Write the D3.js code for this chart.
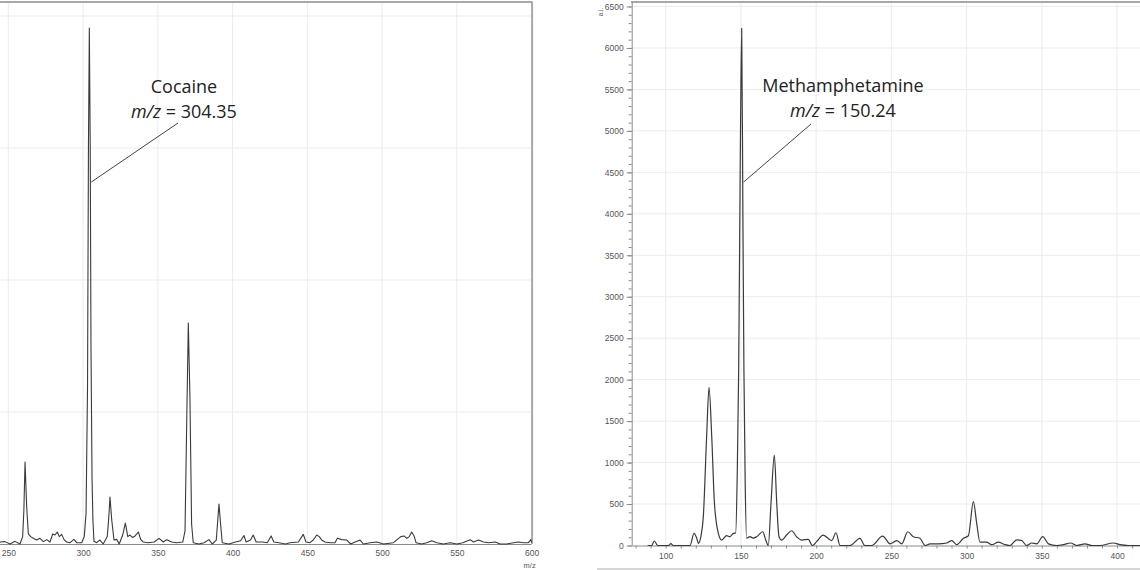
<!DOCTYPE html>
<html><head><meta charset="utf-8">
<script src="https://cdn.jsdelivr.net/npm/d3@7/dist/d3.min.js"></script>
<style>
html,body{margin:0;padding:0;background:#fff;}
svg{display:block;}
</style></head>
<body>
<svg id="chart" width="1140" height="570"></svg>
<script>
// ---------------- DATA ----------------
// Left panel: cocaine spectrum [m/z, intensity]
const cocaineSpectrum = [
 [244.4,15],[247.8,18],[251.1,0],[254.5,20],[257.8,0],[259.6,56],[260.4,250],[261.2,621],[262.3,280],[263.4,76],
 [265,56],[266.7,43],[269,30],[271.2,43],[273.4,18],[275.7,33],[277.9,15],[279.7,76],[281.2,68],[282.8,91],
 [284.1,56],[285.7,73],[287.3,33],[289,15],[291.3,10],[293.9,35],[295.7,10],[299.1,10],[300.8,56],[302,230],
 [303,1200],[303.6,3000],[304.2,3909],[304.8,3000],[305.3,1500],[306,500],[306.6,180],[307.3,20],[309.1,10],[311.3,30],
 [313.5,0],[316.2,56],[317.2,200],[318,356],[319.2,180],[320.7,30],[322.5,35],[324.2,0],[326.5,68],[328.3,159],
 [329.9,56],[331.4,68],[333,50],[334.8,61],[337,91],[338.6,33],[340.3,15],[343.6,10],[347.5,15],[350.8,43],
 [353.7,15],[356,33],[359.3,15],[362.6,10],[366.7,15],[368.2,100],[369.3,900],[370.4,1674],[371.5,1100],[372.6,150],
 [373.7,10],[377.5,0],[380.9,10],[384.2,33],[386.4,0],[389.1,30],[390.9,303],[392,150],[393.1,10],[397.6,0],
 [402,15],[405.4,25],[407.6,64],[409.1,15],[412,30],[413.8,68],[415.8,15],[419.8,15],[423.2,10],[425.8,61],
 [427.6,15],[431,10],[435.4,0],[438.4,10],[444,15],[447.3,73],[449.1,15],[451.8,10],[454,30],[456.3,68],
 [458,56],[459.6,30],[461.8,15],[465.2,10],[468.5,10],[470.1,43],[473,33],[476.4,30],[479,0],[481.9,15],
 [485.3,30],[487.5,0],[492,10],[496.4,15],[500.9,0],[507.6,10],[512.5,56],[514.7,61],[516.5,43],[518.2,56],
 [519.8,91],[521.4,61],[522.7,10],[526.5,0],[529.9,10],[533.2,25],[536.6,10],[541,0],[545.5,10],[550,0],
 [554,10],[558.9,33],[561.1,15],[564.5,30],[567.8,15],[571.2,10],[575.7,15],[579,0],[583.4,0],[587.9,10],
 [591.2,15],[594.6,10],[597.9,10],[599.5,33],[600,10]
];
// Right panel: methamphetamine spectrum [m/z, intensity (a.i.)]
const methSpectrum = [
 [88,0],[90.7,0],[92.4,54],[94.7,0],[101.7,0],[103.5,22],[105,0],[116.2,0],[118.8,147],[120.6,90],
 [121.7,26],[123.5,120],[125,347],[127.2,1312],[128.8,1908],[130.6,1312],[132.4,509],[135,147],[137.2,66],[140.5,118],
 [142.7,106],[145,147],[146.5,150],[147.6,910],[148.5,2117],[149.5,4500],[150.5,6237],[151.3,4000],[152,2100],[152.8,800],
 [153.8,90],[156,106],[158.2,90],[160.5,106],[164.5,166],[166.5,66],[168.2,0],[170,513],[172.2,1091],[173.8,513],
 [175.3,106],[177.1,66],[180.4,126],[183.7,178],[187,106],[190.4,66],[194.8,74],[197.5,0],[200.4,50],[204.7,126],
 [210.3,60],[213.2,154],[215.9,0],[222.5,0],[229.1,87],[232.4,0],[236.9,0],[244.2,114],[249.1,20],[253.6,60],
 [256.9,20],[260.9,166],[264.6,106],[269,87],[272.4,0],[275.7,20],[281.2,20],[286.8,30],[290.1,60],[293.5,10],
 [297.9,87],[301.2,118],[304.5,528],[306.7,270],[308.9,40],[313.3,40],[316.7,10],[321.1,40],[325.5,10],[328.8,0],
 [333.3,68],[336.6,60],[339.9,0],[343.3,30],[346.6,20],[350.6,106],[354.4,20],[359.9,0],[364.3,10],[369.2,30],
 [373.2,0],[378.7,20],[383.2,0],[388.7,0],[397.5,30],[402,10],[407.5,0],[415.3,0],[420,0]
];
const leftXTicks = [250,300,350,400,450,500,550,600];
const leftYGrid = [1000,2000,3000,4000];
const rightXTicks = [100,150,200,250,300,350,400];
const rightYTicks = [0,500,1000,1500,2000,2500,3000,3500,4000,4500,5000,5500,6000,6500];
const leftLabel = ["Cocaine","m/z"," = 304.35"];
const rightLabel = ["Methamphetamine","m/z"," = 150.24"];

// ---------------- DRAW ----------------
const svg = d3.select("#chart");
const gridColor = "#ececec", axisColor = "#8a8a8a", labelColor = "#555", lineColor = "#3a3a3a";
const defs = svg.append("defs");
defs.append("clipPath").attr("id","clipL").append("rect").attr("x",0).attr("y",2).attr("width",532).attr("height",543);
defs.append("clipPath").attr("id","clipR").append("rect").attr("x",632).attr("y",2).attr("width",508).attr("height",544);

// Left panel scales
const xL = d3.scaleLinear().domain([250,600]).range([8.3,531.6]);
const yL = d3.scaleLinear().domain([0,4106]).range([544,2]);
const gL = svg.append("g");
gL.append("g").selectAll("line").data(leftXTicks).join("line")
  .attr("x1",d=>xL(d)).attr("x2",d=>xL(d)).attr("y1",yL(4106)).attr("y2",yL(0))
  .attr("stroke",gridColor).attr("stroke-width",1);
gL.append("g").selectAll("line").data(leftYGrid).join("line")
  .attr("x1",0).attr("x2",xL(600)).attr("y1",d=>yL(d)).attr("y2",d=>yL(d))
  .attr("stroke",gridColor).attr("stroke-width",1);
// frame
gL.append("line").attr("x1",0).attr("x2",xL(600)+1).attr("y1",2).attr("y2",2).attr("stroke","#a8a8a8").attr("stroke-width",2);
gL.append("line").attr("x1",xL(600)+0.5).attr("x2",xL(600)+0.5).attr("y1",2).attr("y2",yL(0)).attr("stroke","#a8a8a8").attr("stroke-width",2);
// x axis
const axL = d3.axisBottom(xL).tickValues(leftXTicks).tickSize(0).tickPadding(6).tickFormat(d3.format("d"));
const axLG = gL.append("g").attr("transform",`translate(0,${yL(0)})`).call(axL);
axLG.select(".domain").attr("stroke",axisColor).attr("d",`M0,0.5H${xL(600)}`);
axLG.selectAll("text").attr("fill",labelColor).attr("font-family","Arial, 'Liberation Sans', sans-serif").attr("font-size",8.5);
gL.append("text").attr("x",xL(600)-8).attr("y",568).attr("fill",labelColor)
  .attr("font-family","Arial, 'Liberation Sans', sans-serif").attr("font-size",7.5).text("m/z");
// spectrum
const lineL = d3.line().x(d=>xL(d[0])).y(d=>yL(d[1]));
gL.append("path").datum(cocaineSpectrum).attr("clip-path","url(#clipL)")
  .attr("d",lineL).attr("fill","none").attr("stroke",lineColor).attr("stroke-width",1.1).attr("stroke-linejoin","round");

// Right panel scales
const xR = d3.scaleLinear().domain([100,400]).range([665.7,1117.05]);
const yR = d3.scaleLinear().domain([0,6500]).range([545.5,6.5]);
const x0R = xR.invert(631.7);
const gR = svg.append("g");
gR.append("g").selectAll("line").data(rightXTicks).join("line")
  .attr("x1",d=>xR(d)).attr("x2",d=>xR(d)).attr("y1",2).attr("y2",yR(0))
  .attr("stroke",gridColor).attr("stroke-width",1);
gR.append("g").selectAll("line").data(rightYTicks.filter(d=>d>0)).join("line")
  .attr("x1",632).attr("x2",1140).attr("y1",d=>yR(d)).attr("y2",d=>yR(d))
  .attr("stroke",gridColor).attr("stroke-width",1);
gR.append("line").attr("x1",631).attr("x2",1140).attr("y1",2).attr("y2",2).attr("stroke","#a8a8a8").attr("stroke-width",2);
// y axis with minor ticks
const yAx = d3.axisLeft(yR).tickValues(rightYTicks).tickSize(5).tickPadding(3).tickFormat(d3.format("d"));
const yAxG = gR.append("g").attr("transform","translate(631.7,0)").call(yAx);
yAxG.select(".domain").attr("stroke",axisColor).attr("d",`M0.5,2V${yR(0)}`);
yAxG.selectAll(".tick line").attr("stroke",axisColor);
yAxG.selectAll("text").attr("fill",labelColor).attr("font-family","Arial, 'Liberation Sans', sans-serif").attr("font-size",8.5);
const yMinor = d3.axisLeft(yR).tickValues(d3.range(0,6501,100)).tickSize(3).tickFormat("");
const yMinG = gR.append("g").attr("transform","translate(631.7,0)").call(yMinor);
yMinG.select(".domain").remove();
yMinG.selectAll(".tick line").attr("stroke",axisColor);
// x axis
const xAx = d3.axisBottom(xR).tickValues(rightXTicks).tickSize(0).tickPadding(7).tickFormat(d3.format("d"));
const xAxG = gR.append("g").attr("transform",`translate(0,${yR(0)})`).call(xAx);
xAxG.select(".domain").attr("stroke",axisColor).attr("d",`M631.7,0.5H1140`);
xAxG.selectAll("text").attr("fill",labelColor).attr("font-family","Arial, 'Liberation Sans', sans-serif").attr("font-size",8.5);
const xMinor = d3.axisBottom(xR).tickValues(d3.range(80,421,10)).tickSize(3).tickFormat("");
const xMinG = gR.append("g").attr("transform",`translate(0,${yR(0)})`).call(xMinor);
xMinG.select(".domain").remove();
xMinG.selectAll(".tick line").attr("stroke",axisColor);
// "a.i." unit label
gR.append("text").attr("transform","translate(603,12) rotate(-90)").attr("text-anchor","middle")
  .attr("fill",labelColor).attr("font-family","Arial, 'Liberation Sans', sans-serif").attr("font-size",6.5).text("a.i.");
// bottom frame line
gR.append("line").attr("x1",597).attr("x2",1140).attr("y1",569).attr("y2",569).attr("stroke","#c8c8c8").attr("stroke-width",1.5);
// spectrum
const lineR = d3.line().x(d=>xR(d[0])).y(d=>yR(d[1])).curve(d3.curveMonotoneX);
gR.append("path").datum(methSpectrum).attr("clip-path","url(#clipR)")
  .attr("d",lineR).attr("fill","none").attr("stroke",lineColor).attr("stroke-width",1.2);

// ---------------- ANNOTATIONS ----------------
function annotate(g, lines, cx, y1, y2, from, to){
  const f = "'Open Sans', 'Noto Sans', sans-serif";
  g.append("text").attr("x",cx).attr("y",y1).attr("text-anchor","middle")
    .attr("font-family",f).attr("font-size",18).attr("fill","#222").text(lines[0]);
  const t = g.append("text").attr("x",cx).attr("y",y2).attr("text-anchor","middle")
    .attr("font-family",f).attr("font-size",18).attr("fill","#222");
  t.append("tspan").attr("font-style","italic").text(lines[1]);
  t.append("tspan").text(lines[2]);
  g.append("line").attr("x1",from[0]).attr("y1",from[1]).attr("x2",to[0]).attr("y2",to[1])
    .attr("stroke","#444").attr("stroke-width",1);
}
annotate(gL, leftLabel, 184, 93, 118, [178,123], [xL(304.2)+2,182]);
annotate(gR, rightLabel, 843, 92, 117, [811,124], [xR(150.5)+2,182]);
</script>
</body></html>
